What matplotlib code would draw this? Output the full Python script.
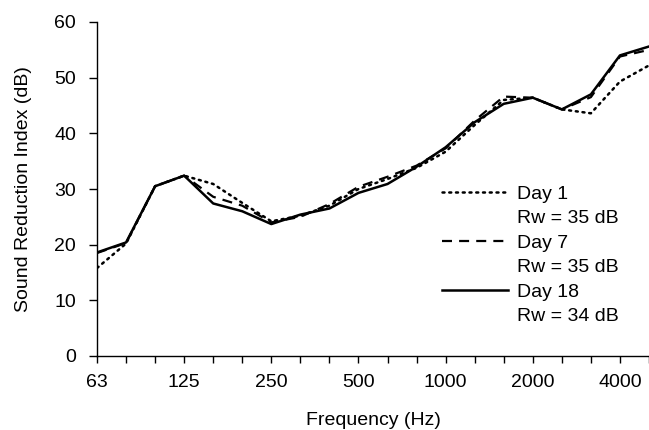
import matplotlib
matplotlib.use("Agg")
import matplotlib.pyplot as plt
from matplotlib.lines import Line2D
import numpy as np

plt.rcParams['font.family'] = ['Liberation Sans', 'DejaVu Sans']

bands = ["63", "80", "100", "125", "160", "200", "250", "315", "400", "500", "630",
         "800", "1000", "1250", "1600", "2000", "2500", "3150", "4000", "5000"]
tick_labels = ["63", "125", "250", "500", "1000", "2000", "4000"]

day1 = [15.8, 20.2, 30.5, 32.4, 30.9, 27.5, 24.2, 25.2, 27.0, 30.0, 31.8,
        33.8, 36.7, 41.5, 46.0, 46.4, 44.3, 43.6, 49.3, 52.2]
day7 = [18.5, 20.3, 30.5, 32.4, 28.6, 27.0, 24.0, 25.0, 27.3, 30.4, 32.2,
        34.2, 37.3, 42.3, 46.6, 46.4, 44.3, 46.5, 53.8, 55.0]
day18 = [18.6, 20.4, 30.5, 32.4, 27.4, 26.0, 23.7, 25.4, 26.5, 29.3, 30.9,
         34.0, 37.5, 42.0, 45.3, 46.4, 44.3, 47.0, 54.0, 55.6]

series_names = ["Day 1", "Day 7", "Day 18"]
rw_labels = ["Rw = 35 dB", "Rw = 35 dB", "Rw = 34 dB"]

W, H = 649, 430
fig = plt.figure(figsize=(W/100, H/100), dpi=100)
ax = fig.add_axes([97/W, 1-356/H, 1-97/W, (356-22)/H])

x = np.arange(len(bands))
l1, = ax.plot(x, day1, color='black', lw=1.8, linestyle=(0, (0.8, 1.9)),
              dash_capstyle='round')
l2, = ax.plot(x, day7, color='black', lw=1.6, linestyle=(0, (4.5, 3.2)))
l3, = ax.plot(x, day18, color='black', lw=1.8)

ax.set_xlim(0, 19 - 5/29.33)
ax.set_ylim(0, 60)
ax.set_yticks(np.arange(0, 61, 10))
ax.set_xticks(x)
ax.set_xticklabels([b if b in tick_labels else "" for b in bands])
ax.tick_params(axis='both', labelsize=14, direction='out', length=5, width=1, color='black')
ax.tick_params(axis='x', pad=8)
ax.tick_params(axis='y', pad=9, length=6)
for s in ['top', 'right']:
    ax.spines[s].set_visible(False)
for s in ['left', 'bottom']:
    ax.spines[s].set_linewidth(1)

ax.set_xlabel("Frequency (Hz)", fontsize=14, labelpad=15)
ax.set_ylabel("Sound Reduction Index (dB)", fontsize=14, labelpad=16)

blank = Line2D([], [], color='none')
handles, labs = [], []
for h, n, r in zip([l1, l2, l3], series_names, rw_labels):
    handles += [h, blank]
    labs += [n, r]

leg = ax.legend(handles, labs, loc='lower left', bbox_to_anchor=((424-97)/552, 0.04),
                frameon=False, fontsize=14, handlelength=3.4, labelspacing=0.35,
                handletextpad=0.5, borderpad=0.4)

fig.savefig("out.png", dpi=100)
